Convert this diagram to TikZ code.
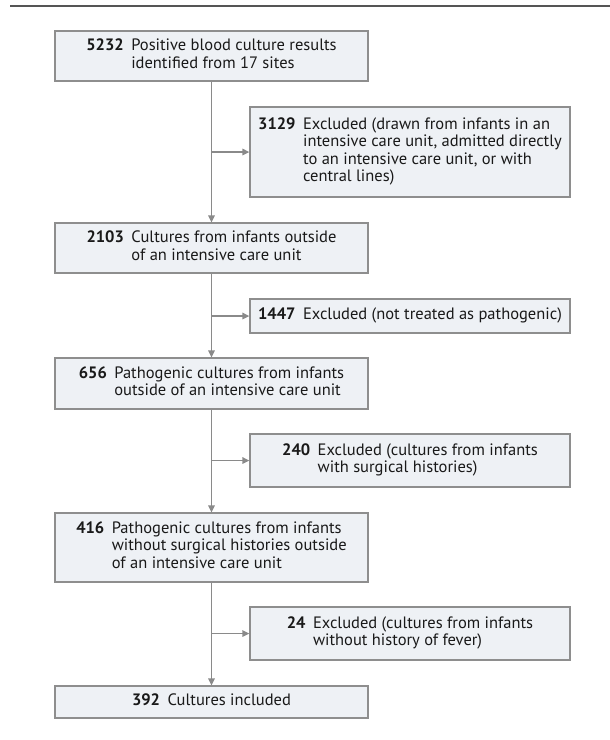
\documentclass[tikz,border=0pt]{standalone}
\usepackage{fontspec}
\setmainfont{PT Sans}
\usetikzlibrary{arrows.meta}
\definecolor{boxfill}{HTML}{EEF1F5}
\definecolor{boxline}{HTML}{8E8E8E}
\definecolor{linkgray}{HTML}{8A8A8A}
\definecolor{rulegray}{HTML}{555555}
\newcommand{\flowtext}[2]{\textbf{#1}\hspace{7.5pt}\begin{tabular}[t]{@{}l@{}}#2\end{tabular}}
\tikzset{
  flowbox/.style={draw=boxline,fill=boxfill,line width=1.3pt,inner sep=0pt,
    font=\fontsize{16.5}{17.4}\selectfont,text=black!90},
  mainbox/.style={flowbox,minimum width=313pt},
  exclbox/.style={flowbox,minimum width=320pt},
  link/.style={draw=linkgray,line width=1.4pt,-{Triangle[length=7pt,width=6.5pt]}}
}
\begin{document}
\begin{tikzpicture}[x=1pt,y=-1pt]
\useasboundingbox (0,0) rectangle (610,740);
\draw[rulegray,line width=2pt] (10,6) -- (610,6);

\node[mainbox,minimum height=50pt] (n5232) at (211.5,56) {\flowtext{5232}{Positive blood culture results\\identified from 17 sites}};
\node[exclbox,minimum height=90pt] (x3129) at (410,152) {\flowtext{3129}{Excluded (drawn from infants in an\\intensive care unit, admitted directly\\to an intensive care unit, or with\\central lines)}};
\node[mainbox,minimum height=50pt] (n2103) at (211.5,248) {\flowtext{2103}{Cultures from infants outside\\of an intensive care unit}};
\node[exclbox,minimum height=34pt] (x1447) at (410,316) {\flowtext{1447}{Excluded (not treated as pathogenic)}};
\node[mainbox,minimum height=51pt] (n656) at (211.5,383.5) {\flowtext{656}{Pathogenic cultures from infants\\outside of an intensive care unit}};
\node[exclbox,minimum height=53pt] (x240) at (410,460.5) {\flowtext{240}{Excluded (cultures from infants\\with surgical histories)}};
\node[mainbox,minimum height=69pt] (n416) at (211.5,547.5) {\flowtext{416}{Pathogenic cultures from infants\\without surgical histories outside\\of an intensive care unit}};
\node[exclbox,minimum height=53pt] (x24) at (410,633.5) {\flowtext{24}{Excluded (cultures from infants\\without history of fever)}};
\node[mainbox,minimum height=32pt] (n392) at (211.5,702) {\flowtext{392}{Cultures included}};

\draw[link] (n5232) -- (n2103);
\draw[link] (n2103) -- (n656);
\draw[link] (n656) -- (n416);
\draw[link] (n416) -- (n392);
\draw[link] (n5232.south |- x3129.west) -- (x3129.west);
\draw[link] (n2103.south |- x1447.west) -- (x1447.west);
\draw[link] (n656.south |- x240.west) -- (x240.west);
\draw[link] (n416.south |- x24.west) -- (x24.west);
\end{tikzpicture}
\end{document}
